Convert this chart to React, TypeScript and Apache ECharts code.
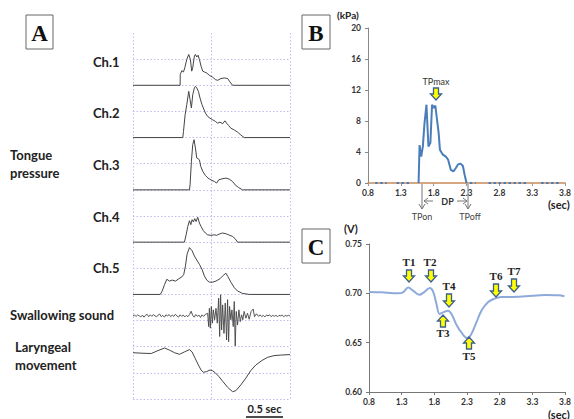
import React, { useEffect, useRef } from "react";
import * as echarts from "echarts";

// ---------- Panel A (grid units: x = 0..2, each band = 1 unit) ----------
const ch1 = [[0,0],[0.600,0],[0.602,0.41],[0.622,0.56],[0.643,0.51],[0.660,0.67],[0.685,0.99],[0.710,1.18],[0.731,0.99],[0.748,0.54],[0.761,0.67],[0.782,1.12],[0.795,1.18],[0.812,1.08],[0.829,1.15],[0.846,0.99],[0.867,0.73],[0.888,0.54],[0.909,0.51],[0.939,0.47],[0.973,0.38],[1.015,0.31],[1.049,0.22],[1.078,0.19],[1.121,0.26],[1.163,0.28],[1.205,0.26],[1.235,0.13],[1.268,0],[2,0]];
const ch2 = [[0,0],[0.634,0],[0.643,0.23],[0.664,0.87],[0.685,1.26],[0.710,1.77],[0.727,1.45],[0.744,1.13],[0.761,1.64],[0.782,1.90],[0.795,1.96],[0.812,1.90],[0.833,1.77],[0.854,1.51],[0.879,1.26],[0.896,1.13],[0.922,0.94],[0.951,0.81],[0.981,0.74],[1.015,0.68],[1.049,0.62],[1.078,0.55],[1.108,0.59],[1.142,0.53],[1.171,0.64],[1.192,0.55],[1.218,0.46],[1.247,0.36],[1.290,0.29],[1.332,0.21],[1.374,0.10],[1.416,0],[2,0]];
const ch3 = [[0,0],[0.719,0],[0.727,0.19],[0.744,1.09],[0.761,1.73],[0.778,1.92],[0.795,1.60],[0.812,1.22],[0.829,1.19],[0.846,1.15],[0.863,0.90],[0.888,0.71],[0.922,0.55],[0.956,0.45],[0.994,0.38],[1.036,0.32],[1.066,0.26],[1.091,0.38],[1.133,0.42],[1.184,0.45],[1.226,0.41],[1.268,0.32],[1.302,0.19],[1.345,0.09],[1.395,0],[2,0]];
const ch4 = [[0,0],[0.655,0],[0.677,0.28],[0.698,0.60],[0.719,0.82],[0.736,0.67],[0.753,0.86],[0.770,0.77],[0.786,0.90],[0.803,0.79],[0.825,0.95],[0.846,0.73],[0.867,0.60],[0.896,0.44],[0.922,0.35],[0.951,0.28],[0.994,0.26],[1.036,0.28],[1.066,0.26],[1.099,0.31],[1.142,0.35],[1.184,0.32],[1.218,0.28],[1.268,0.22],[1.302,0.13],[1.332,0],[2,0]];
const ch5 = [[0,0],[0.347,0],[0.372,0.13],[0.402,0.38],[0.431,0.58],[0.465,0.51],[0.499,0.55],[0.541,0.51],[0.584,0.60],[0.626,0.68],[0.647,0.77],[0.668,1.09],[0.689,1.54],[0.719,1.79],[0.753,1.67],[0.782,1.47],[0.812,1.32],[0.846,1.15],[0.879,0.96],[0.909,0.71],[0.939,0.55],[0.973,0.47],[1.015,0.47],[1.057,0.51],[1.108,0.60],[1.150,0.73],[1.184,0.81],[1.209,0.68],[1.247,0.47],[1.290,0.26],[1.332,0.13],[1.395,0.04],[1.480,0],[2,0]];
const swallowSound = [[0,0],[0.02,0.03],[0.04,-0.02],[0.06,0.04],[0.08,0.0],[0.10,-0.04],[0.12,0.03],[0.14,-0.05],[0.16,0.02],[0.18,0.06],[0.20,-0.03],[0.22,0.04],[0.24,-0.02],[0.26,0.05],[0.28,0.0],[0.30,-0.04],[0.32,0.03],[0.34,0.07],[0.36,-0.03],[0.38,0.02],[0.40,-0.05],[0.42,0.04],[0.44,0.0],[0.46,0.05],[0.48,-0.03],[0.50,0.03],[0.52,-0.02],[0.54,0.06],[0.56,0.0],[0.58,-0.05],[0.60,0.04],[0.62,-0.02],[0.64,0.03],[0.66,-0.04],[0.68,0.02],[0.70,-0.03],[0.72,0.05],[0.74,0.18],[0.76,0.02],[0.78,-0.05],[0.80,0.05],[0.82,-0.02],[0.84,0.03],[0.86,-0.06],[0.88,0.04],[0.90,-0.02],[0.92,0.05],[0.951,0.10],[0.964,-0.41],[0.973,0.29],[0.985,-0.47],[0.998,0.36],[1.011,-0.28],[1.023,0.23],[1.040,-0.15],[1.057,0.29],[1.074,-0.28],[1.091,0.68],[1.104,-0.79],[1.116,0.81],[1.129,-0.54],[1.142,0.42],[1.159,-0.67],[1.175,0.49],[1.192,-0.92],[1.205,0.62],[1.218,-0.99],[1.230,0.36],[1.247,-0.15],[1.260,0.23],[1.277,-0.41],[1.290,0.55],[1.302,-1.15],[1.315,0.17],[1.332,-0.35],[1.349,0.23],[1.366,-0.22],[1.383,0.04],[1.399,-0.15],[1.416,0.17],[1.438,-0.09],[1.459,0.10],[1.480,-0.13],[1.505,0.17],[1.531,0.26],[1.548,-0.03],[1.573,0.08],[1.60,-0.02],[1.62,0.04],[1.64,-0.03],[1.66,0.02],[1.68,-0.04],[1.70,0.03],[1.72,0.0],[1.74,0.04],[1.76,-0.03],[1.78,0.02],[1.80,-0.02],[1.82,0.03],[1.84,-0.04],[1.86,0.02],[1.88,0.0],[1.90,0.03],[1.92,-0.03],[1.94,0.02],[1.96,-0.01],[1.98,0.02],[2.0,0]];
const laryngeal = [[0,1.77],[0.127,1.75],[0.233,1.74],[0.317,1.85],[0.402,1.95],[0.465,1.87],[0.529,1.77],[0.592,1.71],[0.655,1.80],[0.719,1.89],[0.753,1.80],[0.791,1.56],[0.833,1.30],[0.867,1.11],[0.896,1.02],[0.939,1.05],[0.981,1.11],[1.015,1.08],[1.049,1.0],[1.091,0.87],[1.142,0.68],[1.205,0.45],[1.268,0.28],[1.311,0.32],[1.374,0.54],[1.438,0.80],[1.501,1.09],[1.564,1.30],[1.641,1.47],[1.712,1.59],[1.797,1.66],[1.882,1.68],[2.0,1.70]];
const aTraces = [ch1, ch2, ch3, ch4, ch5, swallowSound, laryngeal];
const aBaselines = [12, 10, 8, 6, 4, 3.18, 0];
const aLabels = ["Ch.1", "Ch.2", "Ch.3", "Ch.4", "Ch.5"];

// ---------- Panel B ----------
const bTime = [1.57,1.585,1.61,1.635,1.66,1.69,1.72,1.75,1.775,1.80,1.825,1.85,1.875,1.895,1.935,1.985,2.02,2.06,2.10,2.135,2.17,2.21,2.245,2.27,2.30];
const bPressure = [0,4.9,3.4,4.7,7.7,10.1,4.7,5.2,10.1,9.7,10.0,8.2,6.5,4.3,3.7,3.4,3.0,1.7,1.5,1.9,2.4,2.5,2.2,1.1,0];
const bZeroSegments = [[0.91,1.085],[1.235,1.435],[2.35,2.44],[2.635,3.21],[3.435,3.735]];
const bYTicks = [0, 4, 8, 12, 16, 20];

// ---------- Panel C ----------
const cTime = [0.8,0.99,1.24,1.32,1.40,1.47,1.57,1.64,1.73,1.78,1.83,1.88,1.94,2.01,2.07,2.14,2.22,2.30,2.36,2.44,2.52,2.62,2.72,2.82,2.95,3.20,3.50,3.70,3.79];
const cVolt = [0.7014,0.701,0.700,0.701,0.706,0.703,0.6986,0.701,0.7054,0.702,0.690,0.679,0.681,0.6824,0.678,0.668,0.6598,0.6547,0.658,0.670,0.6824,0.691,0.6946,0.6963,0.6963,0.697,0.6983,0.698,0.697];
const cYTicks = [0.60, 0.65, 0.70, 0.75];
const timeTicks = [0.8, 1.3, 1.8, 2.3, 2.8, 3.3, 3.8];
const T0 = 0.8;

const SANS = "Lato, 'Open Sans', sans-serif";
const SERIF = "'Liberation Serif', 'DejaVu Serif', serif";
const YEL = "#ffff00";
const ARROW_EDGE = "#3d5f8f";

function blockArrow(cx: number, y0: number, y1: number, up: boolean) {
  const s = 2.5, h = 5.5, hl = 6;
  const d = up ? -1 : 1;
  const base = y1 - d * hl;
  return {
    type: "polygon",
    shape: {
      points: [[cx - s, y0], [cx + s, y0], [cx + s, base], [cx + h, base], [cx, y1], [cx - h, base], [cx - s, base]],
    },
    style: { fill: YEL, stroke: ARROW_EDGE, lineWidth: 1.3 },
    z: 100,
  };
}
function txt(text: string, x: number, y: number, font: string, align = "left", fill = "#222") {
  return { type: "text", x, y, style: { text, font, fill, align, verticalAlign: "middle" }, z: 100 };
}
function box(x: number, y: number, w: number, h: number, letter: string) {
  return [
    { type: "rect", shape: { x, y, width: w, height: h }, style: { fill: "#fff", stroke: "#666", lineWidth: 1 }, z: 100 },
    txt(letter, x + w / 2, y + h / 2 + 1, `bold 23px ${SERIF}`, "center", "#111"),
  ];
}
function thinLine(x1: number, y1: number, x2: number, y2: number) {
  return { type: "line", shape: { x1, y1, x2, y2 }, style: { stroke: "#777", lineWidth: 1 }, z: 100 };
}
function head(points: number[][]) {
  return { type: "polyline", shape: { points }, style: { stroke: "#777", lineWidth: 1, fill: "none" }, z: 100 };
}

export default function App() {
  const ref = useRef<HTMLDivElement>(null);
  useEffect(() => {
    if (!ref.current) return;
    const chart = echarts.init(ref.current, null, { renderer: "svg" });

    const gridLine = { show: true, lineStyle: { color: "#bdbdf0", type: [1.5, 2], width: 1 } };
    const hidden = { axisLine: { show: false }, axisTick: { show: false }, axisLabel: { show: false } };
    const axLabel = { fontSize: 8.5, fontWeight: "bold", color: "#333", fontFamily: SANS };

    const series: any[] = [];
    aTraces.forEach((tr, i) => {
      series.push({
        type: "line", xAxisIndex: 0, yAxisIndex: 0, showSymbol: false, silent: true,
        data: tr.map((p) => [p[0], p[1] + aBaselines[i]]),
        lineStyle: { color: "#444", width: i === 5 ? 0.9 : 1 },
      });
    });
    series.push({
      type: "line", xAxisIndex: 1, yAxisIndex: 1, showSymbol: false, silent: true,
      data: bTime.map((t, i) => [t - T0, bPressure[i]]),
      lineStyle: { color: "#4a7ebb", width: 2 }, z: 10,
    });
    bZeroSegments.forEach((seg) => {
      series.push({
        type: "line", xAxisIndex: 1, yAxisIndex: 1, showSymbol: false, silent: true, clip: false,
        data: [[seg[0] - T0, 0], [seg[1] - T0, 0]],
        lineStyle: { color: "#4a7ebb", width: 2, type: [2.5, 2.5] }, z: 10,
      });
    });
    series.push({
      type: "line", xAxisIndex: 2, yAxisIndex: 2, showSymbol: false, silent: true, smooth: 0.35,
      data: cTime.map((t, i) => [t - T0, cVolt[i]]),
      lineStyle: { color: "#8eaadb", width: 2 },
    });

    const graphic: any[] = [
      ...box(26, 15, 27, 34, "A"),
      ...box(302, 15, 28, 34, "B"),
      ...box(302, 229, 28, 34, "C"),
      ...aLabels.map((l, i) => txt(l, 93, [62, 113, 165, 217, 268][i], `bold 13px ${SANS}`)),
      txt("Tongue", 10, 155, `bold 13px ${SANS}`),
      txt("pressure", 10, 173, `bold 13px ${SANS}`),
      txt("Swallowing sound", 10, 315, `bold 13px ${SANS}`),
      txt("Laryngeal", 15, 347, `bold 13px ${SANS}`),
      txt("movement", 15, 365, `bold 13px ${SANS}`),
      txt("0.5 sec", 264.5, 408, `bold 11px ${SANS}`, "center"),
      { type: "line", shape: { x1: 246, y1: 417, x2: 283, y2: 417 }, style: { stroke: "#111", lineWidth: 1.5 }, z: 100 },
      // B annotations
      txt("(kPa)", 337, 15, `bold 10px ${SANS}`),
      txt("(sec)", 548, 204, `bold 11px ${SANS}`),
      txt("TPmax", 436, 81, `9px ${SANS}`, "center", "#333"),
      blockArrow(436, 88, 100, false),
      thinLine(422, 184, 422, 209), head([[419, 204], [422, 209], [425, 204]]),
      thinLine(468, 184, 468, 209), head([[465, 204], [468, 209], [471, 204]]),
      thinLine(424, 201, 433, 201), head([[428, 198], [424, 201], [428, 204]]),
      thinLine(457, 201, 467, 201), head([[463, 198], [467, 201], [463, 204]]),
      txt("DP", 447.5, 201, `bold 9px ${SANS}`, "center", "#333"),
      txt("TPon", 422, 216, `9px ${SANS}`, "center", "#444"),
      txt("TPoff", 470, 216, `9px ${SANS}`, "center", "#444"),
      // C annotations
      txt("(V)", 344, 228, `bold 11px ${SANS}`),
      txt("(sec)", 548, 414, `bold 11px ${SANS}`),
      blockArrow(409, 270, 282, false), txt("T1", 409, 262, `bold 11px ${SERIF}`, "center"),
      blockArrow(431, 270, 282, false), txt("T2", 430, 262, `bold 11px ${SERIF}`, "center"),
      blockArrow(443, 327, 315, true), txt("T3", 443, 333, `bold 11px ${SERIF}`, "center"),
      blockArrow(449, 294, 307, false), txt("T4", 449, 286, `bold 11px ${SERIF}`, "center"),
      blockArrow(469, 349, 337, true), txt("T5", 469, 356, `bold 11px ${SERIF}`, "center"),
      blockArrow(496, 284, 297, false), txt("T6", 496, 276, `bold 11px ${SERIF}`, "center"),
      blockArrow(514, 279, 292, false), txt("T7", 514, 271, `bold 11px ${SERIF}`, "center"),
    ];

    chart.setOption({
      animation: false,
      backgroundColor: "#fff",
      grid: [
        { left: 133, top: 33, width: 157, height: 366 },
        { left: 368, top: 28, width: 200, height: 155 },
        { left: 369, top: 244, width: 199, height: 148 },
      ],
      xAxis: [
        { gridIndex: 0, type: "value", min: 0, max: 2, interval: 1, ...hidden, splitLine: gridLine },
        {
          gridIndex: 1, type: "value", min: 0, max: timeTicks[timeTicks.length - 1] - T0, interval: 0.5, z: 0,
          axisLine: { show: true, onZero: false, lineStyle: { color: "#c98b57", width: 1.5 } },
          axisTick: { show: true, length: 3, lineStyle: { color: "#999" } },
          axisLabel: { ...axLabel, margin: 5, formatter: (v: number) => (v + T0).toFixed(1) },
          splitLine: { show: false },
        },
        {
          gridIndex: 2, type: "value", min: 0, max: timeTicks[timeTicks.length - 1] - T0, interval: 0.5,
          axisLine: { show: true, onZero: false, lineStyle: { color: "#777", width: 1 } },
          axisTick: { show: true, length: 3, lineStyle: { color: "#777" } },
          axisLabel: { ...axLabel, margin: 5, formatter: (v: number) => (v + T0).toFixed(1) },
          splitLine: { show: false },
        },
      ],
      yAxis: [
        { gridIndex: 0, type: "value", min: 0, max: 14, interval: 1, ...hidden, splitLine: { ...gridLine, showMaxLine: false } },
        {
          gridIndex: 1, type: "value", min: bYTicks[0], max: bYTicks[bYTicks.length - 1], interval: 4,
          axisLine: { show: true, lineStyle: { color: "#888", width: 1 } },
          axisTick: { show: true, length: 3, lineStyle: { color: "#888" } },
          axisLabel: { ...axLabel, margin: 7 },
          splitLine: { show: false },
        },
        {
          gridIndex: 2, type: "value", min: cYTicks[0], max: cYTicks[cYTicks.length - 1], interval: 0.05,
          axisLine: { show: true, lineStyle: { color: "#777", width: 1 } },
          axisTick: { show: true, length: 3, lineStyle: { color: "#777" } },
          axisLabel: { ...axLabel, margin: 7, formatter: (v: number) => v.toFixed(2) },
          splitLine: { show: false },
        },
      ],
      series,
      graphic,
    });
    return () => chart.dispose();
  }, []);
  return <div ref={ref} style={{ position: "fixed", left: 0, top: 0, width: 574, height: 419 }} />;
}
